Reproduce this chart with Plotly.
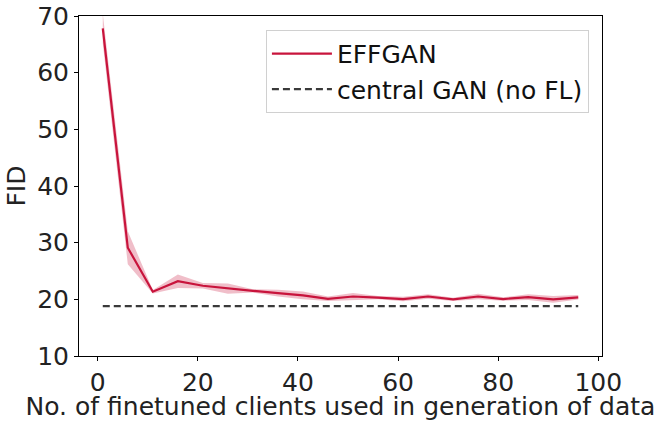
import plotly.graph_objects as go

clients = [1, 6, 11, 16, 21, 26, 31, 36, 41, 46, 51, 56, 61, 66, 71, 76, 81, 86, 91, 96]
fid_mean = [67.8, 29.1, 21.35, 23.2, 22.4, 21.9, 21.5, 21.1, 20.7, 20.1, 20.5, 20.3, 20.05, 20.5,
            20.0, 20.5, 20.05, 20.4, 20.0, 20.35]
fid_std = [2.6, 2.9, 0.3, 1.2, 0.5, 0.9, 0.3, 0.6, 0.7, 0.4, 0.6, 0.3, 0.4, 0.4,
           0.3, 0.5, 0.3, 0.5, 0.6, 0.4]
central_fid = 18.8

x_ticks = [0, 20, 40, 60, 80, 100]
y_ticks = [10, 20, 30, 40, 50, 60, 70]

line_color = "#c8143c"
font = "DejaVu Sans"
fs = 25

upper = [m + s for m, s in zip(fid_mean, fid_std)]
lower = [m - s for m, s in zip(fid_mean, fid_std)]

fig = go.Figure()
fig.add_trace(go.Scatter(
    x=clients + clients[::-1], y=upper + lower[::-1],
    fill="toself", fillcolor="rgba(200,20,60,0.28)", line=dict(width=0),
    mode="lines", showlegend=False, hoverinfo="skip"))
fig.add_trace(go.Scatter(
    x=clients, y=fid_mean, mode="lines", name="EFFGAN",
    line=dict(color=line_color, width=2.2)))
fig.add_trace(go.Scatter(
    x=[clients[0], clients[-1]], y=[central_fid, central_fid], mode="lines",
    name="central GAN (no FL)",
    line=dict(color="#3a3a3a", width=2.2, dash="7px,4px")))

axis_common = dict(
    showline=True, linecolor="black", linewidth=1, mirror=True,
    ticks="outside", ticklen=4, tickcolor="black", showgrid=False, zeroline=False,
    tickfont=dict(family=font, size=fs, color="#222"), automargin=False,
)
fig.update_xaxes(range=[-3.75, 100.75], tickvals=x_ticks,
                 title=dict(text="No. of finetuned clients used in generation of data",
                            font=dict(family=font, size=fs, color="#222"), standoff=3),
                 **axis_common)
fig.update_yaxes(range=[10, 70], tickvals=y_ticks,
                 title=dict(text="FID", font=dict(family=font, size=fs, color="#222"), standoff=4),
                 **axis_common)

fig.update_layout(
    width=656, height=421,
    margin=dict(l=79, r=54, t=16, b=65),
    plot_bgcolor="white", paper_bgcolor="white",
    font=dict(family=font, size=fs, color="#222"),
    legend=dict(x=0.975, y=0.959, xanchor="right", yanchor="top",
                bordercolor="#d0d0d0", borderwidth=1, bgcolor="rgba(255,255,255,0.8)",
                font=dict(family=font, size=fs, color="#111"), itemwidth=60,
                tracegroupgap=0),
    hovermode=False,
)

fig.write_html("out.html", config={"displayModeBar": False},
               post_script="document.body.style.margin='0';")
